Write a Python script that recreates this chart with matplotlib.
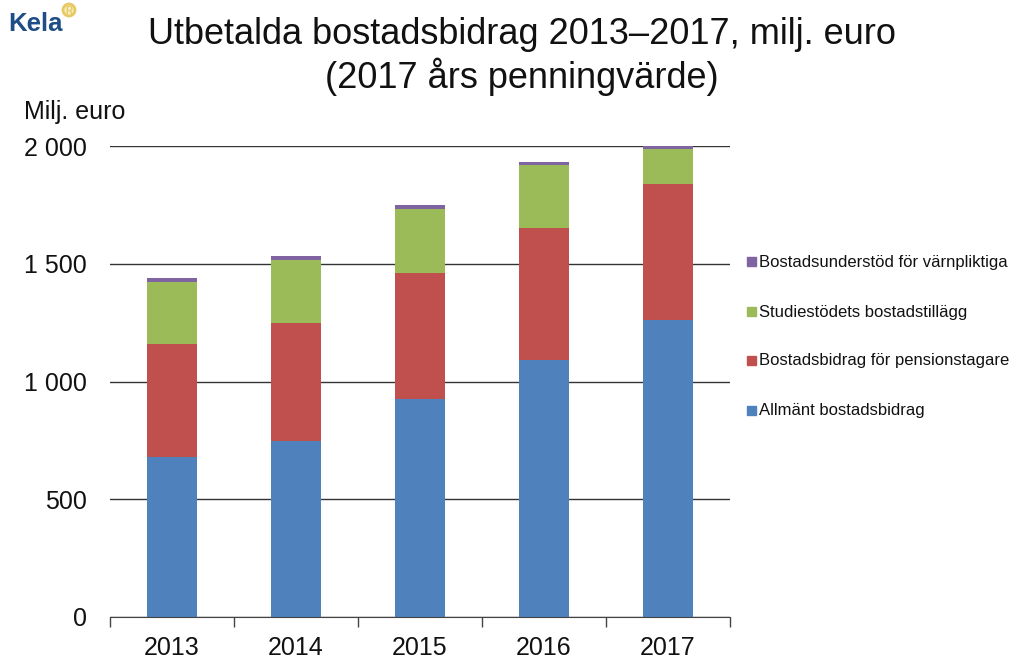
import matplotlib
matplotlib.use("Agg")
from matplotlib import pyplot as plt
from matplotlib.patches import Circle
import numpy as np

plt.rcParams['font.family'] = ['Liberation Sans', 'DejaVu Sans']

# data, milj. euro
years = ["2013", "2014", "2015", "2016", "2017"]
allmant = [679, 747, 926, 1091, 1261]
pension = [480, 501, 535, 561, 578]
studie = [263, 268, 271, 267, 148]
varnpliktiga = [19, 19, 17, 15, 13]

y_ticks = [0, 500, 1000, 1500, 2000]
y_labels = ["0", "500", "1 000", "1 500", "2 000"]

series = [
    ("Allmänt bostadsbidrag", allmant, "#4f81bd"),
    ("Bostadsbidrag för pensionstagare", pension, "#c0504d"),
    ("Studiestödets bostadstillägg", studie, "#9bbb59"),
    ("Bostadsunderstöd för värnpliktiga", varnpliktiga, "#8064a2"),
]

W, H = 1023, 668
fig = plt.figure(figsize=(W / 100, H / 100), dpi=100)

# plot area in pixels: x 110-730, y 146-617
ax = fig.add_axes([110 / W, 1 - 617 / H, 620 / W, 471 / H])

x = np.arange(len(years))
bottom = np.zeros(len(years))
for name, vals, col in series:
    ax.bar(x, vals, 0.4, bottom=bottom, color=col, label=name, zorder=3)
    bottom += np.array(vals)

ax.set_xlim(-0.5, 4.5)
ax.set_ylim(0, 2000)
ax.set_yticks(y_ticks)
ax.set_yticklabels(y_labels, fontsize=18, color="#111111")
ax.set_xticks(x)
ax.set_xticklabels(years, fontsize=18, color="#111111")
ax.set_xticks(np.arange(-0.5, 5), minor=True)
ax.tick_params(axis="x", which="major", length=0, pad=13.5)
ax.tick_params(axis="x", which="minor", length=7, width=1, color="#444444", direction="out")
ax.tick_params(axis="y", length=0, pad=16.5)
ax.grid(axis="y", color="#333333", linewidth=1, zorder=1)
ax.set_axisbelow(True)
for s in ["top", "right", "left"]:
    ax.spines[s].set_visible(False)
ax.spines["bottom"].set_color("#444444")
ax.spines["bottom"].set_zorder(4)

# title and axis caption
fig.text(522 / W, 1 - 35 / H, "Utbetalda bostadsbidrag 2013–2017, milj. euro",
         fontsize=26, ha="center", va="center", color="#111111")
fig.text(522 / W, 1 - 77 / H, "(2017 års penningvärde)",
         fontsize=26, ha="center", va="center", color="#111111")
fig.text(24 / W, 1 - 112 / H, "Milj. euro", fontsize=18, ha="left", va="center", color="#111111")

# legend, each entry placed like the original
legend_y = [262, 312, 361, 411]
for (name, vals, col), ly in zip(reversed(series), legend_y):
    fig.patches.append(plt.Rectangle((747 / W, 1 - (ly + 4) / H), 9 / W, 9 / H,
                                     transform=fig.transFigure, color=col, figure=fig))
    fig.text(759 / W, 1 - ly / H, name, fontsize=12, ha="left", va="center", color="#111111")

# Kela logo
fig.text(8 / W, 1 - 24 / H, "Kela", fontsize=18.5, fontweight="bold", ha="left", va="center",
         color="#1f4e86")
fig.patches.append(Circle((69, H - 10), 6, transform=None, facecolor="#f6efc0",
                          edgecolor="#e8c860", linewidth=2, figure=fig))
fig.text(69 / W, 1 - 10.5 / H, "R", fontsize=7, fontweight="bold", ha="center", va="center",
         color="#e8c860")

plt.savefig("out.png", dpi=100)
